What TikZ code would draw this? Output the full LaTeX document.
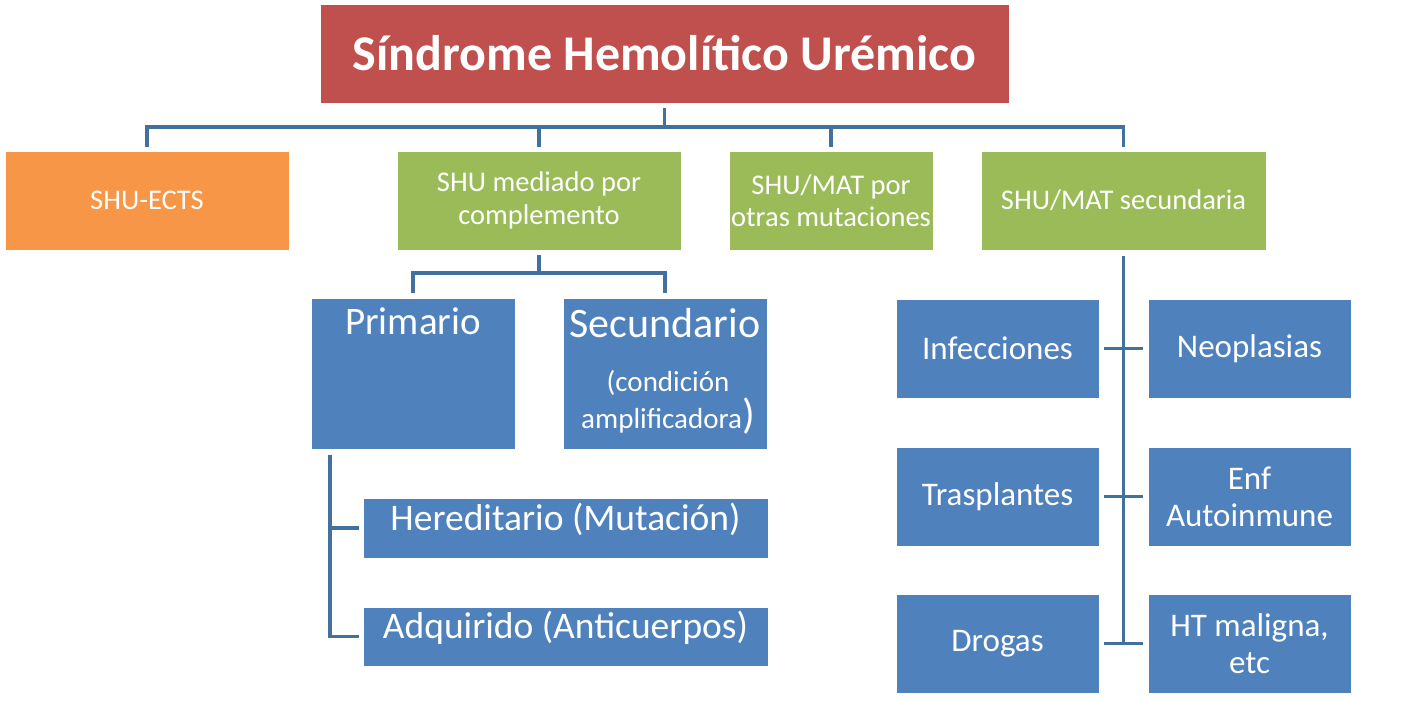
\documentclass[tikz,border=0pt]{standalone}
\usepackage{fontspec}
\setmainfont{Carlito}
\definecolor{cred}{HTML}{C0504D}
\definecolor{corange}{HTML}{F79646}
\definecolor{cgreen}{HTML}{9BBB59}
\definecolor{cblue}{HTML}{4F81BD}
\definecolor{cline}{HTML}{41719C}
\begin{document}
\begin{tikzpicture}[x=1pt,y=-1pt,
  box/.style={draw=white, line width=0.8pt, inner sep=0pt, text=white, align=center, font=\fontsize{28.5}{32.5}\selectfont},
  conn/.style={draw=cline, line width=3.8pt},
  txt/.style={text=white, inner sep=0pt, align=center}]
\path[use as bounding box, fill=white] (0,0) rectangle (1416,701);

% title
\node[box, fill=cred, minimum width=689pt, minimum height=99pt, font=\bfseries\fontsize{50}{54}\selectfont] (title) at (664.5,53.5) {Síndrome Hemolítico Urémico};

% level 1
\node[box, fill=corange, minimum width=284pt, minimum height=99pt] (ects) at (147,200.5) {SHU-ECTS};
\node[box, fill=cgreen, minimum width=284pt, minimum height=99pt] (comp) at (539,200.5) {SHU mediado por\\complemento};
\node[box, fill=cgreen, minimum width=204pt, minimum height=99pt] (otras) at (831,200.5) {SHU/MAT por\\otras mutaciones};
\node[box, fill=cgreen, minimum width=285pt, minimum height=99pt] (sec) at (1123.5,200.5) {SHU/MAT secundaria};

% level 2 (complemento)
\node[box, fill=cblue, minimum width=204pt, minimum height=151pt] (prim) at (413,373.5) {};
\node[txt, font=\fontsize{39}{42}\selectfont] (primt) at (413,321) {Primario};
\node[box, fill=cblue, minimum width=204pt, minimum height=151pt] (secu) at (665,373.5) {};
\node[txt, font=\fontsize{42}{46}\selectfont] (secut) at (665,323) {Secundario};
\node[txt, font=\fontsize{29}{37}\selectfont] (secud) at (668,402) {(condición\\amplificadora{\fontsize{42}{42}\selectfont)}};

\node[box, fill=cblue, minimum width=405pt, minimum height=60pt] (her) at (565.5,528) {};
\node[txt, font=\fontsize{37.5}{40}\selectfont] (hert) at (565.5,519) {Hereditario (Mutación)};
\node[box, fill=cblue, minimum width=405pt, minimum height=59pt] (adq) at (565.5,636.5) {};
\node[txt, font=\fontsize{37.5}{40}\selectfont] (adqt) at (565.5,628) {Adquirido (Anticuerpos)};

% level 2 (secundaria)
\tikzset{sbox/.style={box, fill=cblue, minimum width=203pt, minimum height=99pt, font=\fontsize{33}{37}\selectfont}}
\node[sbox] (inf) at (997.5,348.5) {Infecciones};
\node[sbox] (neo) at (1249.5,348.5) {Neoplasias};
\node[sbox] (tras) at (997.5,496.5) {Trasplantes};
\node[sbox] (enf) at (1249.5,496.5) {Enf\\Autoinmune};
\node[sbox] (drog) at (997.5,643.5) {Drogas};
\node[sbox] (ht) at (1249.5,643.5) {HT maligna,\\etc};

% connectors: title
\coordinate (bus) at (0,127);
\draw[conn] ([yshift=-5pt]title.south) -- (title.south |- bus);
\draw[conn] ([yshift=4pt]ects.north) -- (ects.north |- bus) -- (sec.north |- bus) -- ([yshift=4pt]sec.north);
\draw[conn] ([yshift=4pt]comp.north) -- (comp.north |- bus);
\draw[conn] ([yshift=4pt]otras.north) -- (otras.north |- bus);

% connectors: complemento
\coordinate (bus2) at (0,273);
\draw[conn] ([yshift=-5pt]comp.south) -- (comp.south |- bus2);
\draw[conn] ([yshift=5pt]prim.north) -- (prim.north |- bus2) -- (secu.north |- bus2) -- ([yshift=5pt]secu.north);

% connectors: primario
\coordinate (pst) at (330,455);
\draw[conn] (pst) |- ([xshift=-4pt]her.west);
\draw[conn] (pst) |- ([xshift=-4pt]adq.west);

% connectors: secundaria
\draw[conn] ([yshift=-6pt]sec.south) -- (sec.south |- drog.east);
\draw[conn] ([xshift=5pt]inf.east) -- ([xshift=-5pt]neo.west);
\draw[conn] ([xshift=5pt]tras.east) -- ([xshift=-5pt]enf.west);
\draw[conn] ([xshift=5pt]drog.east) -- ([xshift=-5pt]ht.west);
\end{tikzpicture}
\end{document}
